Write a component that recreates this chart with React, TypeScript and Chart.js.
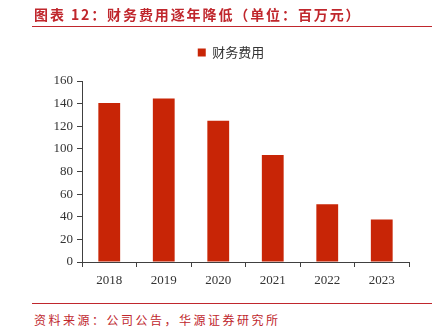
import React, { useEffect, useRef } from "react";
import { Chart, registerables } from "chart.js";

Chart.register(...registerables);

const categories = ["2018", "2019", "2020", "2021", "2022", "2023"];
const seriesName = "财务费用";
const financeCost = [140.5, 144.5, 124.8, 94.5, 51, 37.5];
const yTicks = [0, 20, 40, 60, 80, 100, 120, 140, 160];
const titleText = "图表 12：财务费用逐年降低（单位：百万元）";
const sourceText = "资料来源：公司公告，华源证券研究所";

const RED = "#C0272D";
const BAR = "#C82506";
const AXIS = "#404040";

const legendSpacer = {
  id: "legendSpacer",
  beforeLayout(chart: any) {
    const lg = chart.legend;
    if (lg && !lg.__patched) {
      const orig = lg.fit;
      lg.fit = function () {
        orig.call(this);
        this.height += 12;
      };
      lg.__patched = true;
    }
  },
};

export default function App() {
  const ref = useRef<HTMLCanvasElement | null>(null);

  useEffect(() => {
    if (!ref.current) return;
    const chart = new Chart(ref.current, {
      type: "bar",
      data: {
        labels: categories,
        datasets: [
          {
            label: seriesName,
            data: financeCost,
            backgroundColor: BAR,
            borderWidth: 0,
            barPercentage: 0.4,
            categoryPercentage: 1,
          },
        ],
      },
      plugins: [legendSpacer],
      options: {
        responsive: false,
        animation: false,
        layout: { padding: { left: 53, right: 23, top: 36, bottom: 10 } },
        plugins: {
          tooltip: { enabled: false },
          legend: {
            display: true,
            position: "top",
            labels: {
              boxWidth: 8,
              boxHeight: 8,
              padding: 10,
              color: "#333333",
              font: { family: "'Noto Sans CJK SC'", size: 13 },
            },
          },
        },
        scales: {
          x: {
            afterFit: (s: any) => {
              s.height = 28;
            },
            grid: {
              offset: true,
              drawOnChartArea: false,
              drawTicks: true,
              tickLength: 5,
              color: AXIS,
            },
            border: { display: true, color: AXIS, width: 1 },
            ticks: {
              color: "#333333",
              padding: 6,
              font: { family: "'Liberation Serif'", size: 13 },
            },
          },
          y: {
            min: 0,
            max: 160,
            afterFit: (s: any) => {
              s.width = 29;
            },
            afterBuildTicks: (s: any) => {
              s.ticks = yTicks.map((v) => ({ value: v }));
            },
            grid: {
              drawOnChartArea: false,
              drawTicks: true,
              tickLength: 5,
              color: AXIS,
            },
            border: { display: true, color: AXIS, width: 1 },
            ticks: {
              color: "#333333",
              padding: 4,
              font: { family: "'Liberation Serif'", size: 13 },
            },
          },
        },
      },
    });
    return () => chart.destroy();
  }, []);

  return (
    <div
      style={{
        position: "absolute",
        left: 0,
        top: 0,
        width: 432,
        height: 334,
        background: "#ffffff",
        overflow: "hidden",
      }}
    >
      <canvas
        ref={ref}
        width={432}
        height={300}
        style={{ position: "absolute", left: 0, top: 0, width: 432, height: 300 }}
      />
      <div
        style={{
          position: "absolute",
          left: 34,
          top: 4,
          fontFamily: "'Noto Sans CJK SC'",
          fontWeight: 700,
          fontSize: 14,
          letterSpacing: 1.9,
          lineHeight: "20px",
          color: RED,
          whiteSpace: "nowrap",
        }}
      >
        {titleText}
      </div>
      <div
        style={{
          position: "absolute",
          left: 32,
          right: 0,
          top: 25.5,
          height: 1.5,
          background: RED,
        }}
      />
      <div
        style={{
          position: "absolute",
          left: 32,
          right: 0,
          top: 302.5,
          height: 1.5,
          background: RED,
        }}
      />
      <div
        style={{
          position: "absolute",
          left: 34,
          top: 310,
          fontFamily: "'Noto Sans CJK SC'",
          fontSize: 12,
          letterSpacing: 2.5,
          lineHeight: "20px",
          color: RED,
          whiteSpace: "nowrap",
        }}
      >
        {sourceText}
      </div>
    </div>
  );
}
